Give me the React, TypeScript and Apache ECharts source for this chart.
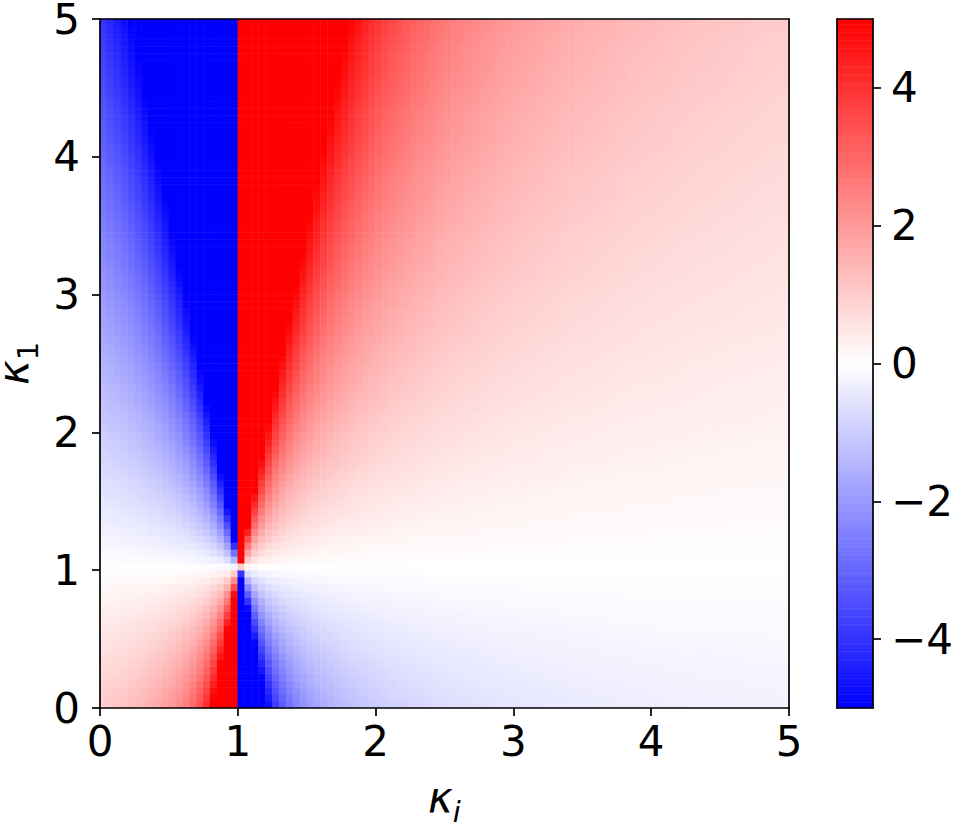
import React, { useEffect, useRef } from "react";
import * as echarts from "echarts";

// Sample positions (the image was computed on a 100 x 100 grid, 0..5 on both axes)
const N = 100;
const kappaI: number[] = Array.from({ length: N }, (_, i) => (5 * i) / (N - 1));
const kappa1: number[] = Array.from({ length: N }, (_, j) => (5 * j) / (N - 1));

// Tick labels
const xTicks = [0, 1, 2, 3, 4, 5];
const yTicks = [0, 1, 2, 3, 4, 5];
const colorbarTicks = [-4, -2, 0, 2, 4];

// Colour scale (matplotlib "bwr"), clipped to [-5, 5]
const vMin = -5;
const vMax = 5;
const bwr = ["#0000ff", "#ffffff", "#ff0000"];

// Field shown in the map: (kappa_1 - 1) / (kappa_i - 1), clipped to the colour range
const field: number[][] = [];
kappaI.forEach((ki, i) => {
  kappa1.forEach((k1, j) => {
    const v = (k1 - 1) / (ki - 1);
    field.push([i, j, Math.max(vMin, Math.min(vMax, v))]);
  });
});

// Colour bar levels
const CB = 256;
const cbLevels: number[] = Array.from({ length: CB }, (_, k) => vMin + ((k + 0.5) * (vMax - vMin)) / CB);

const FONT = "DejaVu Sans";
const FS = 42;
const lineStyle = { color: "#000", width: 1.7 };
const minus = (v: number) => (v < 0 ? "\u2212" + Math.abs(v) : String(v));

export default function App() {
  const ref = useRef<HTMLDivElement>(null);
  useEffect(() => {
    if (!ref.current) return;
    const chart = echarts.init(ref.current, undefined, { renderer: "svg" });
    const frameOnly = (extra: any) => ({
      axisLine: { show: true, onZero: false, lineStyle },
      axisTick: { show: false },
      axisLabel: { show: false },
      splitLine: { show: false },
      z: 10,
      ...extra,
    });
    const labelStyle = { fontSize: FS, color: "#000", fontFamily: FONT };
    chart.setOption({
      animation: false,
      backgroundColor: "#ffffff",
      grid: [
        { left: 100, top: 19, width: 689, height: 689, containLabel: false, outerBoundsMode: "none" },
        { left: 837, top: 19, width: 36, height: 689, containLabel: false, outerBoundsMode: "none" },
      ],
      visualMap: {
        type: "continuous",
        show: false,
        min: vMin,
        max: vMax,
        dimension: 2,
        seriesIndex: [0, 1],
        inRange: { color: bwr },
      },
      xAxis: [
        frameOnly({ type: "category", gridIndex: 0, data: kappaI.map(String), position: "top" }),
        {
          type: "value",
          gridIndex: 0,
          min: xTicks[0],
          max: xTicks[xTicks.length - 1],
          interval: 1,
          position: "bottom",
          axisLine: { show: true, onZero: false, lineStyle },
          axisTick: { show: true, inside: false, length: 8, lineStyle },
          axisLabel: { ...labelStyle, margin: 12, formatter: (v: number) => String(v) },
          splitLine: { show: false },
          z: 10,
          name: "{k|κ}{s|i}",
          nameLocation: "middle",
          nameGap: 68,
          nameTextStyle: {
            color: "#000",
            fontFamily: FONT,
            rich: {
              k: { fontSize: FS, fontStyle: "italic", fontFamily: FONT, color: "#000", lineHeight: 50, verticalAlign: "top" },
              s: { fontSize: 29, fontStyle: "italic", fontFamily: FONT, color: "#000", lineHeight: 22, verticalAlign: "bottom" },
            },
          },
        },
        frameOnly({ type: "category", gridIndex: 1, data: ["cb"], position: "bottom" }),
        frameOnly({ type: "value", gridIndex: 1, min: 0, max: 1, position: "top" }),
      ],
      yAxis: [
        frameOnly({ type: "category", gridIndex: 0, data: kappa1.map(String), position: "right" }),
        {
          type: "value",
          gridIndex: 0,
          min: yTicks[0],
          max: yTicks[yTicks.length - 1],
          interval: 1,
          position: "left",
          axisLine: { show: true, onZero: false, lineStyle },
          axisTick: { show: true, inside: false, length: 8, lineStyle },
          axisLabel: { ...labelStyle, margin: 20, formatter: (v: number) => String(v) },
          splitLine: { show: false },
          z: 10,
          name: "{k|κ}{s|1}",
          nameLocation: "middle",
          nameGap: 58,
          nameTextStyle: {
            color: "#000",
            fontFamily: FONT,
            rich: {
              k: { fontSize: FS, fontStyle: "italic", fontFamily: FONT, color: "#000", lineHeight: 50, verticalAlign: "top" },
              s: { fontSize: 29, fontFamily: FONT, color: "#000", lineHeight: 22, verticalAlign: "bottom" },
            },
          },
        },
        frameOnly({ type: "category", gridIndex: 1, data: cbLevels.map(String), position: "left" }),
        {
          type: "value",
          gridIndex: 1,
          min: vMin,
          max: vMax,
          position: "right",
          axisLine: { show: true, onZero: false, lineStyle },
          axisTick: { show: true, inside: false, length: 8, lineStyle, customValues: colorbarTicks },
          axisLabel: { ...labelStyle, margin: 18, customValues: colorbarTicks, formatter: (v: number) => minus(v) },
          splitLine: { show: false },
          z: 10,
        },
      ],
      series: [
        {
          type: "heatmap",
          xAxisIndex: 0,
          yAxisIndex: 0,
          data: field,
          progressive: 0,
          emphasis: { disabled: true },
        },
        {
          type: "heatmap",
          xAxisIndex: 2,
          yAxisIndex: 2,
          data: cbLevels.map((v, k) => [0, k, v]),
          progressive: 0,
          emphasis: { disabled: true },
        },
      ],
    });
    return () => chart.dispose();
  }, []);
  return <div ref={ref} style={{ position: "fixed", left: 0, top: 0, width: 962, height: 829 }} />;
}
